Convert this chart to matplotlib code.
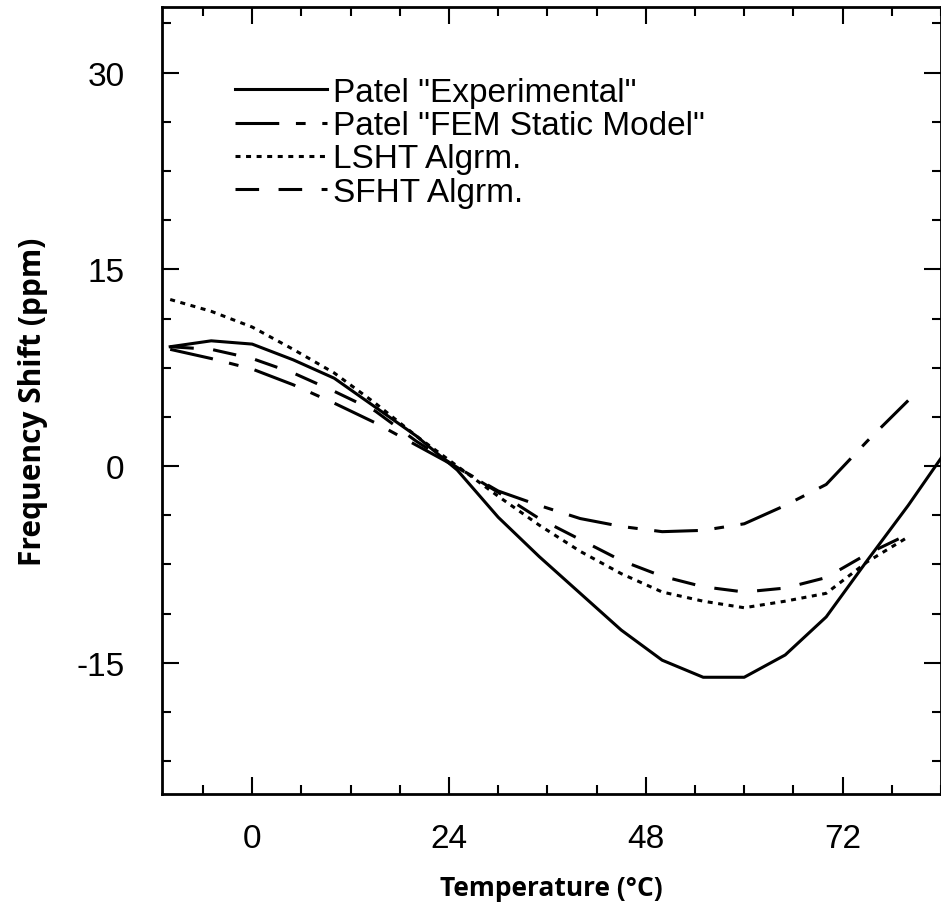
import numpy as np
import matplotlib
matplotlib.use("Agg")
import matplotlib.pyplot as plt
from matplotlib.ticker import MultipleLocator

# temperature points (deg C)
temp = [-10, -5, 0, 5, 10, 15, 20, 25, 30, 35, 40, 45, 50, 55, 60, 65, 70, 75, 80, 85]
experimental = [9.1, 9.55, 9.3, 8.1, 6.7, 4.5, 2.3, -0.3, -3.9, -6.9, -9.7, -12.5, -14.8, -16.1,
                -16.1, -14.4, -11.5, -7.2, -3.0, 1.5]

temp_sim = [-10, -5, 0, 5, 10, 15, 20, 25, 30, 35, 40, 45, 50, 55, 60, 65, 70, 75, 80]
fem_static = [8.9, 8.2, 7.4, 6.2, 4.8, 3.3, 1.6, -0.1, -1.9, -3.0, -4.0, -4.6, -5.0, -4.9,
              -4.4, -3.0, -1.4, 1.9, 5.0]
lsht = [12.7, 11.8, 10.6, 8.9, 7.1, 4.8, 2.3, 0.0, -2.3, -4.5, -6.5, -8.2, -9.6, -10.3,
        -10.8, -10.3, -9.7, -7.3, -5.4]
sfht = [9.1, 8.9, 8.2, 7.1, 5.7, 4.2, 1.9, -0.1, -2.0, -4.0, -5.6, -7.2, -8.4, -9.2,
        -9.6, -9.3, -8.5, -6.7, -5.2]

labels = ['Patel "Experimental"', 'Patel "FEM Static Model"', 'LSHT Algrm.', 'SFHT Algrm.']

plt.rcParams['font.family'] = ['Liberation Sans', 'DejaVu Sans']
plt.rcParams['lines.scale_dashes'] = False
plt.rcParams['axes.unicode_minus'] = False

fig = plt.figure(figsize=(9.41, 9.12), dpi=100)
ax = fig.add_axes([162 / 941, 117 / 912, 779 / 941, 787 / 912])

lw = 2.2
ax.plot(temp, experimental, color='black', lw=lw, label=labels[0])
ax.plot(temp_sim, fem_static, color='black', lw=lw, dashes=(31.5, 12, 7, 12), label=labels[1])
ax.plot(temp_sim, lsht, color='black', lw=lw, dashes=(3.6, 4.0), label=labels[2])
ax.plot(temp_sim, sfht, color='black', lw=lw, dashes=(17, 14), label=labels[3])

ax.set_xlim(-11, 84)
ax.set_ylim(-25, 35)
ax.xaxis.set_major_locator(MultipleLocator(24))
ax.xaxis.set_minor_locator(MultipleLocator(6))
ax.yaxis.set_major_locator(MultipleLocator(15))
ax.yaxis.set_minor_locator(MultipleLocator(3.75))

ax.tick_params(which='both', direction='in', top=True, right=True, width=1.5, labelsize=24)
ax.tick_params(which='major', length=12.5)
ax.tick_params(which='minor', length=6.5)
ax.tick_params(axis='x', which='major', pad=21)
ax.tick_params(axis='y', which='major', pad=27)
for s in ax.spines.values():
    s.set_linewidth(2)

ax.set_xlabel('Temperature (°C)', fontsize=19, fontweight='bold', family='Open Sans', labelpad=14)
ax.set_ylabel('Frequency Shift (ppm)', fontsize=21.5, fontweight='bold', family='Open Sans', labelpad=20)

ax.legend(loc='upper left', bbox_to_anchor=(0.094, 0.911), frameon=False, fontsize=24,
          handlelength=2.76, handletextpad=0.18, labelspacing=0.065, borderaxespad=0, borderpad=0)

fig.savefig('out.png', dpi=100)
